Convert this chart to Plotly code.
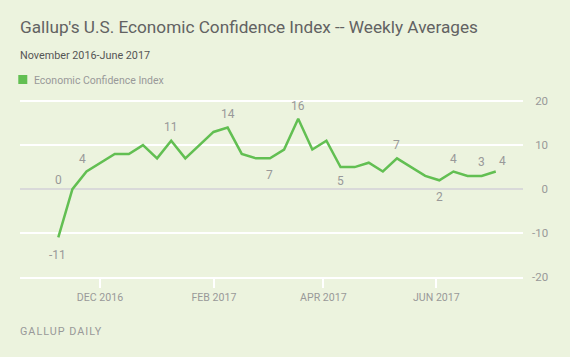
import plotly.graph_objects as go

# ---- data ----
values = [-11, 0, 4, 6, 8, 8, 10, 7, 11, 7, 10, 13, 14, 8, 7, 7, 9, 16,
          9, 11, 5, 5, 6, 4, 7, 5, 3, 2, 4, 3, 3, 4]
weeks = list(range(len(values)))
month_tick_pos = [2.955, 11.03, 18.78, 26.79]
month_tick_labels = ["DEC 2016", "FEB 2017", "APR 2017", "JUN 2017"]
y_ticks = [-20, -10, 0, 10, 20]
labelled_weeks = [0, 1, 2, 8, 12, 15, 17, 20, 24, 27, 28, 30, 31]
series_name = "Economic Confidence Index"
title = "Gallup's U.S. Economic Confidence Index -- Weekly Averages"
subtitle = "November 2016-June 2017"
footer = "GALLUP DAILY"

# ---- styles ----
BG = "#ecf3de"
GREEN = "#62bf52"
GREY = "#999999"
FONT = "Roboto"
# label offsets (xshift, yshift) in px, per labelled week
label_shift = {0: (-1, -18), 1: (-14, 9), 2: (-4, 13), 8: (0, 14), 12: (0, 14),
               15: (0, -17), 17: (0, 13), 20: (0, -14), 24: (0, 13), 27: (0, -17),
               28: (0, 13), 30: (0, 14), 31: (7, 11)}


def pad_label(v):
    # right-align the right-side tick labels with unicode spaces
    s = str(v)
    if v >= 0:
        s = "\u2008" + s
    if abs(v) < 10:
        s = "\u2007" + s
    return s


fig = go.Figure()
fig.add_trace(go.Scatter(x=weeks, y=values, mode="lines", name=series_name,
                         line=dict(color=GREEN, width=2.5), showlegend=False,
                         hoverinfo="x+y"))

annotations = []
for w in labelled_weeks:
    dx, dy = label_shift[w]
    annotations.append(dict(x=weeks[w], y=values[w], text=str(values[w]), showarrow=False,
                            xshift=dx, yshift=dy, xanchor="center", yanchor="middle",
                            font=dict(family=FONT, size=12, color=GREY)))

annotations += [
    dict(xref="paper", yref="paper", x=-0.004, y=1.0, yshift=60, text=title, showarrow=False,
         xanchor="left", yanchor="bottom", font=dict(family=FONT, size=17.2, color="#626262")),
    dict(xref="paper", yref="paper", x=-0.004, y=1.0, yshift=35, text=subtitle, showarrow=False,
         xanchor="left", yanchor="bottom", font=dict(family=FONT, size=10.8, color="#555555")),
    dict(xref="paper", yref="paper", x=0.024, y=1.0, yshift=19, text=series_name, showarrow=False,
         xanchor="left", yanchor="middle", font=dict(family=FONT, size=10.5, color=GREY)),
    dict(xref="paper", yref="paper", x=-0.004, y=0.0, yshift=-46, showarrow=False,
         text='<span style="letter-spacing:1px">' + footer + '</span>',
         xanchor="left", yanchor="top", font=dict(family=FONT, size=10.8, color=GREY)),
]

fig.update_layout(
    width=570, height=357,
    margin=dict(l=20, r=47, t=99, b=80),
    paper_bgcolor=BG, plot_bgcolor=BG,
    annotations=annotations,
    shapes=[dict(type="rect", xref="paper", yref="paper", x0=-0.0034, x1=0.0145,
                 y0=1.0843, y1=1.1348, fillcolor=GREEN, line=dict(width=0))],
    showlegend=False,
)
fig.update_xaxes(range=[-2.714, 32.93], tickmode="array", tickvals=month_tick_pos,
                 ticktext=month_tick_labels, showgrid=False, zeroline=False,
                 showline=True, linecolor="white", linewidth=2,
                 ticks="outside", ticklen=9, tickwidth=2, tickcolor="white",
                 tickfont=dict(family=FONT, size=10.6, color=GREY))
fig.update_yaxes(range=[-20, 20.5], side="right", tickmode="array", tickvals=y_ticks,
                 ticktext=[pad_label(v) for v in y_ticks],
                 showgrid=True, gridcolor="white", gridwidth=2,
                 zeroline=True, zerolinecolor="#d9d9d9", zerolinewidth=2,
                 ticks="", ticklabelstandoff=8,
                 tickfont=dict(family=FONT, size=11.5, color=GREY))

fig.write_html("out.html", config={"displayModeBar": False},
               post_script="document.body.style.margin='0';document.body.style.padding='0';")
